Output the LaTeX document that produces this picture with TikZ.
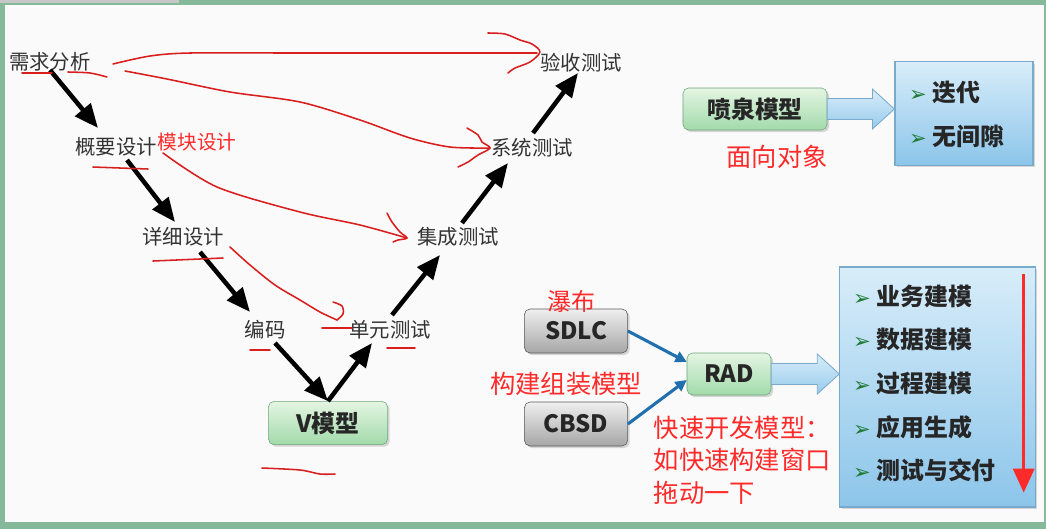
\documentclass[tikz,border=0pt]{standalone}
\usepackage{fontspec}
\setmainfont{Noto Sans CJK SC}
\newfontfamily\dingfont{DejaVu Sans}
\usepackage{tikz}
\usetikzlibrary{arrows.meta,calc,shadows}

\definecolor{framegreen}{HTML}{86B89A}
\definecolor{paper}{HTML}{FAFAFA}
\definecolor{penred}{HTML}{D91E1E}
\definecolor{notered}{HTML}{FF2A2A}
\definecolor{greentop}{HTML}{E4F5E2}
\definecolor{greenbot}{HTML}{A2DAAB}
\definecolor{greenline}{HTML}{6EA57E}
\definecolor{greytop}{HTML}{EFEFEF}
\definecolor{greybot}{HTML}{A6A6A6}
\definecolor{blueline}{HTML}{7AAACB}
\definecolor{bluetop}{HTML}{D8EDF9}
\definecolor{bluebot}{HTML}{8CC5EA}
\definecolor{linkblue}{HTML}{2170AE}
\definecolor{bulgreen}{HTML}{1F7A35}

\tikzstyle{lab} = [inner sep=1pt, text=black!80, font=\fontsize{14.5}{16}\selectfont]
\tikzstyle{note} = [inner sep=1pt, text=notered, font=\fontsize{18}{22}\selectfont]
\tikzstyle{boxbase} = [rectangle, rounded corners=4pt, text=black!85, font=\bfseries\fontsize{17}{20}\selectfont, drop shadow={shadow xshift=1.5pt, shadow yshift=-1.5pt, opacity=0.3}]
\tikzstyle{gbox} = [boxbase, draw=greenline, top color=greentop, bottom color=greenbot]
\tikzstyle{greybox} = [boxbase, draw=black!65, top color=greytop, bottom color=greybot, minimum width=2.58cm, minimum height=1.1cm]
\tikzstyle{bbox} = [rectangle, draw=blueline, line width=0.8pt, top color=bluetop, bottom color=bluebot, drop shadow={shadow xshift=1.5pt, shadow yshift=-1.5pt, opacity=0.3}]
\tikzstyle{item} = [inner sep=1pt, anchor=west, text=black!85, font=\bfseries\fontsize{17}{20}\selectfont]
\tikzstyle{varrow} = [line width=3.2pt, black, -{Triangle[length=17pt,width=14pt]}]
\tikzstyle{linkarrow} = [line width=2.2pt, linkblue, -{Triangle[length=8pt,width=8pt]}]
\tikzstyle{fatarrow} = [draw=blueline, line width=0.6pt, top color=bluetop, bottom color=bluebot!90]
\tikzstyle{redpen} = [penred, line width=1.1pt, line cap=round, line join=round]

\newcommand{\bul}{{\dingfont\fontsize{15}{15}\selectfont\color{bulgreen}➢}}
\newcommand{\fatarr}[2]{\path[fatarrow] ($(#1)+(0,-10.5)$) -- ($(#2)+(-22,-10.5)$) -- ($(#2)+(-22,-20)$) -- (#2) -- ($(#2)+(-22,20)$) -- ($(#2)+(-22,10.5)$) -- ($(#1)+(0,10.5)$) -- cycle;}

\begin{document}
\begin{tikzpicture}[x=0.025cm, y=-0.025cm]

% frame
\useasboundingbox (0,0) rectangle (1046,529);
\fill[framegreen] (0,0) rectangle (1046,529);
\fill[black!22] (0,0) rectangle (179,3.3);
\fill[paper] (4.5,4.5) rectangle (1044,522);

% V model
\node (req) [lab] at (50,62) {需求分析};
\node (sum) [lab] at (116,147) {概要设计};
\node (det) [lab] at (183,237) {详细设计};
\node (code) [lab] at (265,330) {编码};
\node (unit) [lab] at (390,330) {单元测试};
\node (integ) [lab] at (458,237) {集成测试};
\node (sys) [lab] at (532,148) {系统测试};
\node (acc) [lab] at (581,63) {验收测试};
\node (vbox) [gbox, minimum width=2.98cm, minimum height=1.08cm] at (328,423) {V模型};

\draw[varrow] ($(req)+(0,8)$) -- ($(sum)+(-18,-19)$);
\draw[varrow] ($(sum)+(11,13)$) -- ($(det)+(-8,-15)$);
\draw[varrow] ($(det)+(17,15)$) -- ($(code)+(-15,-18)$);
\draw[varrow] ($(code)+(10,13)$) -- (vbox.north);
\draw[varrow] (vbox.north) -- ($(unit)+(-18,13)$);
\draw[varrow] ($(unit)+(2,-15)$) -- ($(integ)+(-18,18)$);
\draw[varrow] ($(integ)+(4,-14)$) -- ($(sys)+(-24,15)$);
\draw[varrow] ($(sys)+(1,-15)$) -- ($(acc)+(-3,10)$);

% hand notes
\node (mod) [note, font=\fontsize{14}{16}\selectfont] at (197,142) {模块设计};
\draw[redpen] plot[smooth] coordinates {(113,64) (150,56) (190,53) (290,53) (400,53) (537,53)};
\draw[redpen] plot[smooth] coordinates {(488,33) (505,34) (520,40) (532,44) (540,52) (530,62) (515,68) (508,73)};
\draw[redpen] plot[smooth] coordinates {(125,71) (167,79) (230,92) (300,102) (360,120) (410,138) (450,147) (490,148)};
\draw[redpen] plot[smooth] coordinates {(467,128) (478,135) (482,142) (490,148) (478,155) (468,162) (458,167)};
\draw[redpen] plot[smooth] coordinates {(163,153) (217,187) (300,212) (360,225) (407,238)};
\draw[redpen] plot[smooth] coordinates {(387,213) (392,222) (400,232) (407,238) (398,240) (393,242)};
\draw[redpen] plot[smooth] coordinates {(230,247) (250,265) (275,285) (300,300) (320,312) (337,320)};
\draw[redpen] plot[smooth] coordinates {(333,302) (342,306) (343,314) (337,320)};
\draw[redpen] (22,73) -- (52,73);
\draw[redpen] plot[smooth] coordinates {(68,72) (90,73) (107,77)};
\draw[redpen] plot[smooth] coordinates {(93,167) (120,168) (148,169)};
\draw[redpen] (153,261) -- (223,258);
\draw[redpen] (250,350) -- (270,350);
\draw[redpen] (322,328) -- (352,328);
\draw[redpen] (387,348) -- (415,348);
\draw[redpen] plot[smooth] coordinates {(262,468) (300,470) (320,474) (335,474)};

% fountain model
\node (fount) [gbox, minimum width=3.6cm, minimum height=1.05cm] at (755,109) {喷泉模型};
\node (list1) [bbox, minimum width=3.45cm, minimum height=2.58cm] at (964,113.5) {};
\node (it1) [item] at ($(list1.north west)+(13,31)$) {\bul\hspace{4pt}迭代};
\node (it2) [item] at ($(list1.north west)+(13,75)$) {\bul\hspace{4pt}无间隙};
\coordinate (f1tip) at (list1.west |- fount.east);
\fatarr{fount.east}{f1tip}
\node (fnote) [note] at (777,157) {面向对象};

% RAD
\node (sdlc) [greybox] at (576,331) {SDLC};
\node (cbsd) [greybox] at (576,424) {CBSD};
\node (rad) [gbox, minimum width=2.1cm, minimum height=1.05cm] at (729,374) {RAD};
\node (list2) [bbox, minimum width=4.88cm, minimum height=6cm] at (937.5,387) {};
\foreach \t [count=\i] in {业务建模,数据建模,过程建模,应用生成,测试与交付}
  \node (li\i) [item] at ($(list2.north west)+(12,{30+43.5*(\i-1)})$) {\bul\hspace{4pt}\t};
\draw[linkarrow] (sdlc.east) -- ($(rad.west)+(0,-12)$);
\draw[linkarrow] (cbsd.east) -- ($(rad.west)+(0,6)$);
\coordinate (f2tip) at (list2.west |- rad.east);
\fatarr{rad.east}{f2tip}
\draw[notered, line width=2.1pt, -{Triangle[length=17pt,width=15pt]}] ($(list2.north east)+(-12,8)$) -- ($(list2.south east)+(-12,-15)$);

\node (wfall) [note, font=\fontsize{17}{20}\selectfont] at (571,301) {瀑布};
\node (cbnote) [note] at (566,384) {构建组装模型};
\node (radnote) [note, align=left, anchor=west, font=\fontsize{18}{23}\selectfont] at (652,460) {快速开发模型：\\如快速构建窗口\\拖动一下};

\end{tikzpicture}
\end{document}
